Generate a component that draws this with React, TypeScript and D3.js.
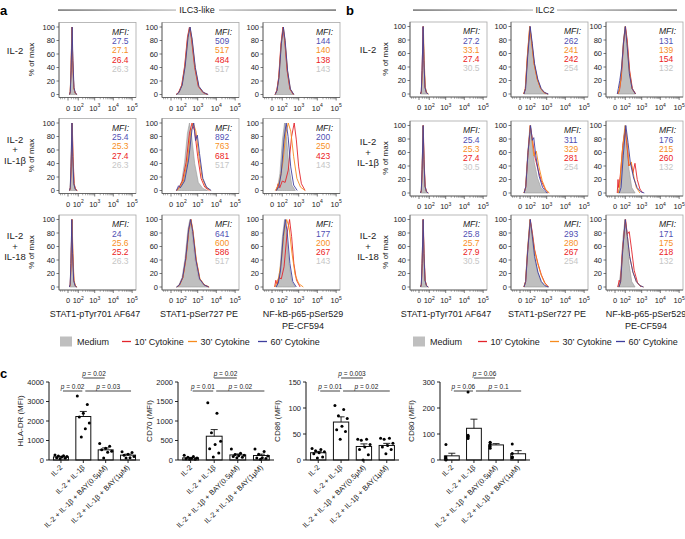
import React from 'react';
import * as d3 from 'd3';

const FONT = "'Liberation Sans', Arial, Helvetica, sans-serif";

// ---------- flow histograms (panels a, b) ----------
const conditions = [['IL-2'], ['IL-2', '+', 'IL-1β'], ['IL-2', '+', 'IL-18']];
const readouts = [['STAT1-pTyr701 AF647'], ['STAT1-pSer727 PE'], ['NF-kB-p65-pSer529', 'PE-CF594']];
const seriesNames = ['Medium', '10’ Cytokine', '30’ Cytokine', '60’ Cytokine'];
const lineColors = ['#bfbfbf', '#e3242b', '#f68b1f', '#3e3e9e'];
// MFI text is listed 60', 30', 10', medium
const mfiColors = ['#5050b4', '#f7901e', '#ec1c24', '#c6c6c6'];
const histTicks = [0, 100, 1000, 10000, 100000];
const histTickExp = ['', '2', '3', '4', '5'];
const pctTicks = [0, 20, 40, 60, 80, 100];

// histogram profiles: [log10 offset from the mode, % of max]
const shapes: Record<string, [number, number][]> = {
  spike: [[-0.5, 0], [-0.3, 4], [-0.15, 35], [0, 100], [0.1, 50], [0.22, 10], [0.35, 2], [0.5, 0]],
  narrow: [[-0.8, 0], [-0.55, 6], [-0.35, 25], [-0.15, 75], [0, 100], [0.12, 80], [0.28, 35], [0.45, 8], [0.65, 0]],
  bell: [[-1, 0], [-0.75, 3], [-0.5, 14], [-0.3, 42], [-0.12, 85], [0, 100], [0.12, 82], [0.3, 40], [0.5, 12], [0.75, 3], [1, 0]],
  broad: [[-1.1, 0], [-0.85, 5], [-0.6, 14], [-0.35, 42], [-0.15, 85], [0, 100], [0.15, 88], [0.32, 50], [0.5, 18], [0.7, 5], [0.95, 0]],
  shoulder: [[-1.2, 0], [-1.0, 7], [-0.85, 4], [-0.55, 14], [-0.3, 45], [-0.1, 90], [0, 100], [0.1, 74], [0.2, 82], [0.32, 55], [0.5, 18], [0.7, 5], [0.95, 0]],
  redBump: [[-1.3, 0], [-1.1, 10], [-0.95, 4], [-0.75, 14], [-0.55, 12], [-0.35, 30], [-0.15, 80], [0, 100], [0.12, 75], [0.25, 35], [0.4, 10], [0.6, 0]],
  skew: [[-0.6, 0], [-0.4, 8], [-0.2, 55], [0, 100], [0.15, 75], [0.3, 45], [0.5, 22], [0.7, 8], [0.9, 2], [1.1, 0]],
  skewTail: [[-0.6, 0], [-0.4, 8], [-0.2, 55], [0, 100], [0.15, 80], [0.3, 55], [0.5, 35], [0.7, 18], [0.9, 6], [1.1, 0]],
  skewBump: [[-0.6, 0], [-0.4, 8], [-0.2, 55], [0, 100], [0.12, 80], [0.25, 55], [0.4, 62], [0.55, 40], [0.75, 18], [0.95, 5], [1.15, 0]],
  skewShoulder: [[-0.6, 0], [-0.4, 10], [-0.2, 60], [0, 100], [0.12, 78], [0.22, 82], [0.35, 55], [0.55, 25], [0.75, 8], [1, 0]],
  ragged: [[-0.9, 0], [-0.75, 20], [-0.65, 8], [-0.45, 25], [-0.2, 70], [0, 95], [0.12, 70], [0.25, 40], [0.38, 45], [0.5, 30], [0.62, 44], [0.75, 20], [0.9, 6], [1.05, 0]],
  raggedOrange: [[-0.7, 0], [-0.5, 12], [-0.25, 60], [0, 100], [0.15, 70], [0.28, 40], [0.4, 46], [0.55, 25], [0.7, 8], [0.9, 0]],
  blueLeft: [[-0.9, 0], [-0.7, 8], [-0.5, 20], [-0.3, 40], [-0.12, 80], [0, 100], [0.12, 75], [0.28, 30], [0.45, 8], [0.65, 0]],
  redShoulder: [[-0.8, 0], [-0.6, 10], [-0.45, 6], [-0.25, 55], [0, 100], [0.12, 78], [0.25, 82], [0.4, 55], [0.55, 25], [0.75, 6], [0.95, 0]],
};

type Curve = [number, string];
// per row, per column: [medium, 10', 30', 60'] as [mode, profile]
const ilc3Curves: Curve[][][] = [
  [
    [[24, 'spike'], [25, 'spike'], [25, 'spike'], [26, 'spike']],
    [[350, 'bell'], [340, 'bell'], [360, 'bell'], [370, 'bell']],
    [[115, 'narrow'], [112, 'narrow'], [118, 'narrow'], [120, 'narrow']],
  ],
  [
    [[24, 'spike'], [27, 'spike'], [26, 'spike'], [25, 'spike']],
    [[340, 'bell'], [480, 'broad'], [560, 'broad'], [600, 'shoulder']],
    [[145, 'narrow'], [560, 'redBump'], [250, 'broad'], [185, 'narrow']],
  ],
  [
    [[24, 'spike'], [25, 'spike'], [26, 'spike'], [24, 'spike']],
    [[360, 'bell'], [410, 'bell'], [420, 'bell'], [400, 'bell']],
    [[145, 'narrow'], [300, 'redBump'], [200, 'broad'], [165, 'narrow']],
  ],
];

const ilc2Curves: Curve[][][] = [
  [
    [[26, 'spike'], [26, 'spike'], [28, 'spike'], [26, 'spike']],
    [[95, 'skew'], [92, 'skew'], [90, 'skew'], [98, 'skew']],
    [[100, 'narrow'], [104, 'narrow'], [98, 'narrow'], [100, 'blueLeft']],
  ],
  [
    [[26, 'spike'], [27, 'spike'], [26, 'spike'], [26, 'spike']],
    [[95, 'skew'], [100, 'skewTail'], [100, 'skewBump'], [105, 'skewShoulder']],
    [[95, 'narrow'], [100, 'ragged'], [100, 'raggedOrange'], [110, 'skew']],
  ],
  [
    [[26, 'spike'], [27, 'spike'], [26, 'spike'], [26, 'spike']],
    [[95, 'skew'], [100, 'skewTail'], [96, 'skewTail'], [100, 'skew']],
    [[95, 'narrow'], [105, 'redShoulder'], [100, 'skew'], [100, 'skew']],
  ],
];

const ilc3Mfi = [
  [['27.5', '27.1', '26.4', '26.3'], ['509', '517', '484', '517'], ['144', '140', '138', '143']],
  [['25.4', '25.3', '27.4', '26.3'], ['892', '763', '681', '517'], ['200', '250', '423', '143']],
  [['24', '25.6', '25.2', '26.3'], ['641', '600', '586', '517'], ['177', '200', '267', '143']],
];

const ilc2Mfi = [
  [['27.2', '33.1', '27.4', '30.5'], ['262', '241', '242', '254'], ['131', '139', '154', '132']],
  [['25.4', '25.3', '27.4', '30.5'], ['311', '329', '281', '254'], ['176', '215', '260', '132']],
  [['25.8', '25.7', '27.9', '30.5'], ['293', '280', '267', '254'], ['171', '175', '218', '132']],
];

// ---------- bar charts (panel c) ----------
const groups = ['IL-2', 'IL-2 + IL-1β', 'IL-2 + IL-1β + BAY(0.5μM)', 'IL-2 + IL-1β + BAY(1μM)'];

const hlaMeans = [160, 2230, 520, 250];
const hlaSem = [30, 260, 100, 50];
const hlaDots = [
  [260, 220, 200, 180, 150, 120, 90, 60],
  [3280, 2850, 2400, 2200, 1900, 1600, 1180],
  [850, 700, 600, 520, 450, 400, 100],
  [420, 380, 300, 250, 180, 120, 100],
];
const cd70Means = [55, 610, 130, 115];
const cd70Sem = [12, 170, 25, 35];
const cd70Dots = [
  [120, 90, 70, 50, 40, 30, 20, 20],
  [1470, 1200, 700, 480, 400, 290, 180, 80],
  [280, 170, 140, 120, 110, 90, 70, 60],
  [280, 220, 150, 100, 60, 50, 40, 20],
];
const cd86Means = [14, 73, 26, 28];
const cd86Sem = [2.5, 10, 5, 4];
const cd86Dots = [
  [22, 20, 18, 16, 14, 12, 6, 4],
  [105, 97, 85, 80, 65, 58, 55, 40],
  [40, 40, 38, 30, 25, 20, 10, 0],
  [42, 42, 40, 32, 28, 25, 20, 12],
];
const cd80Means = [16, 122, 58, 24];
const cd80Sem = [10, 35, 5, 12];
const cd80Dots = [
  [60, 12, 5, 3, 0],
  [262, 95, 90, 88, 83],
  [68, 66, 60, 52, 45],
  [62, 25, 12, 12, 8],
];

type Bracket = [number, number, string, number];
const hlaBrackets: Bracket[] = [[0, 1, '0.02', 0], [1, 3, '0.03', 0], [1, 2, '0.02', 1]];
const cd70Brackets: Bracket[] = [[0, 1, '0.01', 0], [1, 3, '0.02', 0], [1, 2, '0.02', 1]];
const cd86Brackets: Bracket[] = [[0, 1, '0.01', 0], [1, 3, '0.02', 0], [1, 2, '0.003', 1]];
const cd80Brackets: Bracket[] = [[0, 1, '0.06', 0], [1, 3, '0.1', 0], [1, 2, '0.06', 1]];

const HIST_W = 77;
const HIST_H = 75;
const minorTicks = [-60, -40, -20, 20, 40, 60, 80, ...d3.range(2, 10).flatMap((k) => [k * 100, k * 1000, k * 10000])];

const HistPanel: React.FC<{ x0: number; y0: number; curves: Curve[]; mfi: string[] }> = ({ x0, y0, curves, mfi }) => {
  const x = d3.scaleSymlog().constant(40).domain([-80, 160000]).range([x0, x0 + HIST_W]);
  const y = d3.scaleLinear().domain([0, 100]).range([y0 + 72, y0 + 4.5]);
  const pts = (c: Curve) => shapes[c[1]].map(([off, v]) => [c[0] * Math.pow(10, off), v] as [number, number]);
  const area = d3.area<[number, number]>().x((d) => x(d[0])).y0(y(0)).y1((d) => y(d[1]));
  const line = d3.line<[number, number]>().x((d) => x(d[0])).y((d) => y(d[1]));
  const bottom = y0 + HIST_H;
  return (
    <g>
      <rect x={x0} y={y0} width={HIST_W} height={HIST_H} fill="none" stroke="#a8a8a8" strokeWidth={0.8} />
      <path d={area(pts(curves[0])) || ''} fill={lineColors[0]} stroke="#999" strokeWidth={0.6} />
      {[1, 2, 3].map((i) => (
        <path key={i} d={line(pts(curves[i])) || ''} fill="none" stroke={lineColors[i]} strokeWidth={0.9} />
      ))}
      <line x1={x0} x2={x0 + HIST_W} y1={bottom} y2={bottom} stroke="#555" strokeWidth={0.8} />
      <line x1={x0} x2={x0} y1={y0} y2={bottom} stroke="#555" strokeWidth={0.8} />
      {pctTicks.map((t) => (
        <g key={t}>
          <line x1={x0 - 2.5} x2={x0} y1={y(t)} y2={y(t)} stroke="#444" strokeWidth={0.7} />
          <text x={x0 - 4} y={y(t) + 2.6} fontSize={7.5} textAnchor="end" fill="#222">{t}</text>
        </g>
      ))}
      {minorTicks.map((t) => (
        <line key={t} x1={x(t)} x2={x(t)} y1={bottom} y2={bottom + 1.8} stroke="#555" strokeWidth={0.5} />
      ))}
      {histTicks.map((t, i) => (
        <g key={t}>
          <line x1={x(t)} x2={x(t)} y1={bottom} y2={bottom + 3} stroke="#444" strokeWidth={0.7} />
          <text x={x(t)} y={bottom + 13} fontSize={7.5} textAnchor="middle" fill="#222">
            {i === 0 ? '0' : '10'}
            {histTickExp[i] && <tspan dy={-3.5} fontSize={5}>{histTickExp[i]}</tspan>}
          </text>
        </g>
      ))}
      <text x={x0 + 53} y={y0 + 12} fontSize={8.5} fontStyle="italic" fill="#222">MFI:</text>
      {mfi.map((m, i) => (
        <text key={i} x={x0 + 53} y={y0 + 21.5 + i * 9.3} fontSize={8.5} fill={mfiColors[i]}>{m}</text>
      ))}
    </g>
  );
};

const FlowPanel: React.FC<{
  letter: string; title: string; letterX: number; titleX: number; lineL: [number, number]; lineR: [number, number];
  colX: number[]; rowY: number[]; labelX: number; pctX: number; curves: Curve[][][]; mfi: string[][][]; titleCx: number[];
  legendX: number; legendOffsets: number[]; id: string;
}> = (p) => (
  <g>
    <defs>
      <linearGradient id={`${p.id}L`} x1="0" x2="1" y1="0" y2="0">
        <stop offset="0" stopColor="#111" />
        <stop offset="1" stopColor="#999" />
      </linearGradient>
      <linearGradient id={`${p.id}R`} x1="0" x2="1" y1="0" y2="0">
        <stop offset="0" stopColor="#999" />
        <stop offset="1" stopColor="#111" />
      </linearGradient>
    </defs>
    <text x={p.letterX} y={15} fontSize={13} fontWeight="bold">{p.letter}</text>
    <rect x={p.lineL[0]} y={9.6} width={p.lineL[1] - p.lineL[0]} height={0.9} fill={`url(#${p.id}L)`} />
    <rect x={p.lineR[0]} y={9.6} width={p.lineR[1] - p.lineR[0]} height={0.9} fill={`url(#${p.id}R)`} />
    <text x={p.titleX} y={13} fontSize={9} textAnchor="middle" fill="#222">{p.title}</text>
    {p.rowY.map((ry, r) => (
      <g key={r}>
        {conditions[r].map((s, k) => (
          <text key={k} x={p.labelX} y={ry + (conditions[r].length === 1 ? 31 : 24 + k * 10.5)} fontSize={9.5} textAnchor="middle" fill="#222">{s}</text>
        ))}
        <text transform={`translate(${p.pctX},${ry + 37}) rotate(-90)`} fontSize={8} textAnchor="middle" fill="#222">% of max</text>
        {p.colX.map((cx, c) => (
          <HistPanel key={c} x0={cx} y0={ry} curves={p.curves[r][c]} mfi={p.mfi[r][c]} />
        ))}
      </g>
    ))}
    {readouts.map((lines, c) =>
      lines.map((s, k) => (
        <text key={`${c}-${k}`} x={p.titleCx[c]} y={317 + k * 12} fontSize={9} textAnchor="middle" fill="#222">{s}</text>
      ))
    )}
    {seriesNames.map((s, i) => {
      const lx = p.legendX + p.legendOffsets[i];
      return (
        <g key={s}>
          {i === 0 ? (
            <rect x={lx} y={336.5} width={12} height={10} fill={lineColors[0]} />
          ) : (
            <line x1={lx} x2={lx + 9} y1={341.5} y2={341.5} stroke={lineColors[i]} strokeWidth={1.3} />
          )}
          <text x={lx + (i === 0 ? 17 : 12.5)} y={344.7} fontSize={9} fill="#222">{s}</text>
        </g>
      );
    })}
  </g>
);

const BarChart: React.FC<{
  x0: number; x1: number; max: number; ticks: number[]; label: string;
  means: number[]; sems: number[]; dots: number[][]; brackets: Bracket[];
}> = ({ x0, x1, max, ticks, label, means, sems, dots, brackets }) => {
  const y = d3.scaleLinear().domain([0, max]).range([460, 382]);
  const x = d3.scaleBand().domain(groups).range([x0, x1]).paddingInner(0.33).paddingOuter(0.2);
  const bw = x.bandwidth();
  const cx = (i: number) => (x(groups[i]) || 0) + bw / 2;
  const levelY = [391, 378];
  return (
    <g>
      {means.map((m, i) => (
        <g key={i}>
          <rect x={x(groups[i])} y={y(m)} width={bw} height={y(0) - y(m)} fill="#fff" stroke="#111" strokeWidth={1} />
          <line x1={cx(i)} x2={cx(i)} y1={y(m)} y2={y(m + sems[i])} stroke="#111" strokeWidth={0.9} />
          <line x1={cx(i) - 3.5} x2={cx(i) + 3.5} y1={y(m + sems[i])} y2={y(m + sems[i])} stroke="#111" strokeWidth={0.9} />
          {dots[i].map((v, j) => {
            const n = dots[i].length;
            const off = ((j * 5) % n) / Math.max(1, n - 1) - 0.5;
            return <circle key={j} cx={cx(i) + off * (bw - 3)} cy={y(v)} r={1.5} fill="#000" />;
          })}
        </g>
      ))}
      <line x1={x0} x2={x1} y1={y(0)} y2={y(0)} stroke="#111" strokeWidth={1} />
      <line x1={x0} x2={x0} y1={y(0)} y2={y(max)} stroke="#111" strokeWidth={1} />
      {ticks.map((t) => (
        <g key={t}>
          <line x1={x0 - 3} x2={x0} y1={y(t)} y2={y(t)} stroke="#111" strokeWidth={0.9} />
          <text x={x0 - 5} y={y(t) + 2.6} fontSize={7.5} textAnchor="end" fill="#222">{t}</text>
        </g>
      ))}
      {groups.map((g, i) => (
        <g key={g}>
          <line x1={cx(i)} x2={cx(i)} y1={y(0)} y2={y(0) + 3} stroke="#111" strokeWidth={0.9} />
          <text transform={`translate(${cx(i) + 2},${y(0) + 8}) rotate(-45)`} fontSize={7.3} textAnchor="end" fill="#222">{g}</text>
        </g>
      ))}
      <text transform={`translate(${x0 - 26},${421}) rotate(-90)`} fontSize={8} textAnchor="middle" fill="#222">{label}</text>
      {brackets.map(([a, b, pv, lvl], k) => {
        const xa = cx(a) + (lvl === 0 ? 2 : 0);
        const xb = cx(b) + (b === 3 ? 3 : -1);
        const yy = levelY[lvl];
        return (
          <g key={k}>
            <line x1={xa} x2={xb} y1={yy} y2={yy} stroke="#111" strokeWidth={0.8} />
            <text x={(xa + xb) / 2} y={yy - 2.5} fontSize={6.5} textAnchor="middle" fill="#222">
              <tspan fontStyle="italic">p</tspan> = {pv}
            </text>
          </g>
        );
      })}
    </g>
  );
};

const App: React.FC = () => (
  <svg width={685} height={539} style={{ position: 'absolute', left: 0, top: 0, fontFamily: FONT }}>
    <rect width={685} height={539} fill="#fff" />
    <FlowPanel
      id="ga" letter="a" title="ILC3-like" letterX={0} titleX={197} lineL={[58, 176]} lineR={[219, 336]}
      colX={[59, 162, 263]} rowY={[22.5, 118.5, 215]} labelX={15} pctX={34}
      curves={ilc3Curves} mfi={ilc3Mfi} titleCx={[95, 199, 303]} legendX={60} legendOffsets={[0, 62, 128, 198]}
    />
    <FlowPanel
      id="gb" letter="b" title="ILC2" letterX={346} titleX={545} lineL={[413, 533]} lineR={[557, 677]}
      colX={[410, 511, 606]} rowY={[22, 121, 215]} labelX={368} pctX={388}
      curves={ilc2Curves} mfi={ilc2Mfi} titleCx={[446, 547, 646]} legendX={413} legendOffsets={[0, 65, 137, 203]}
    />
    <text x={0} y={378} fontSize={13} fontWeight="bold">c</text>
    <BarChart x0={49} x1={140} max={4000} ticks={[0, 1000, 2000, 3000, 4000]} label="HLA-DR (MFI)"
      means={hlaMeans} sems={hlaSem} dots={hlaDots} brackets={hlaBrackets} />
    <BarChart x0={178} x1={274} max={2000} ticks={[0, 500, 1000, 1500, 2000]} label="CD70 (MFI)"
      means={cd70Means} sems={cd70Sem} dots={cd70Dots} brackets={cd70Brackets} />
    <BarChart x0={306} x1={399} max={150} ticks={[0, 50, 100, 150]} label="CD86 (MFI)"
      means={cd86Means} sems={cd86Sem} dots={cd86Dots} brackets={cd86Brackets} />
    <BarChart x0={440} x1={530} max={300} ticks={[0, 100, 200, 300]} label="CD80 (MFI)"
      means={cd80Means} sems={cd80Sem} dots={cd80Dots} brackets={cd80Brackets} />
  </svg>
);

export default App;
